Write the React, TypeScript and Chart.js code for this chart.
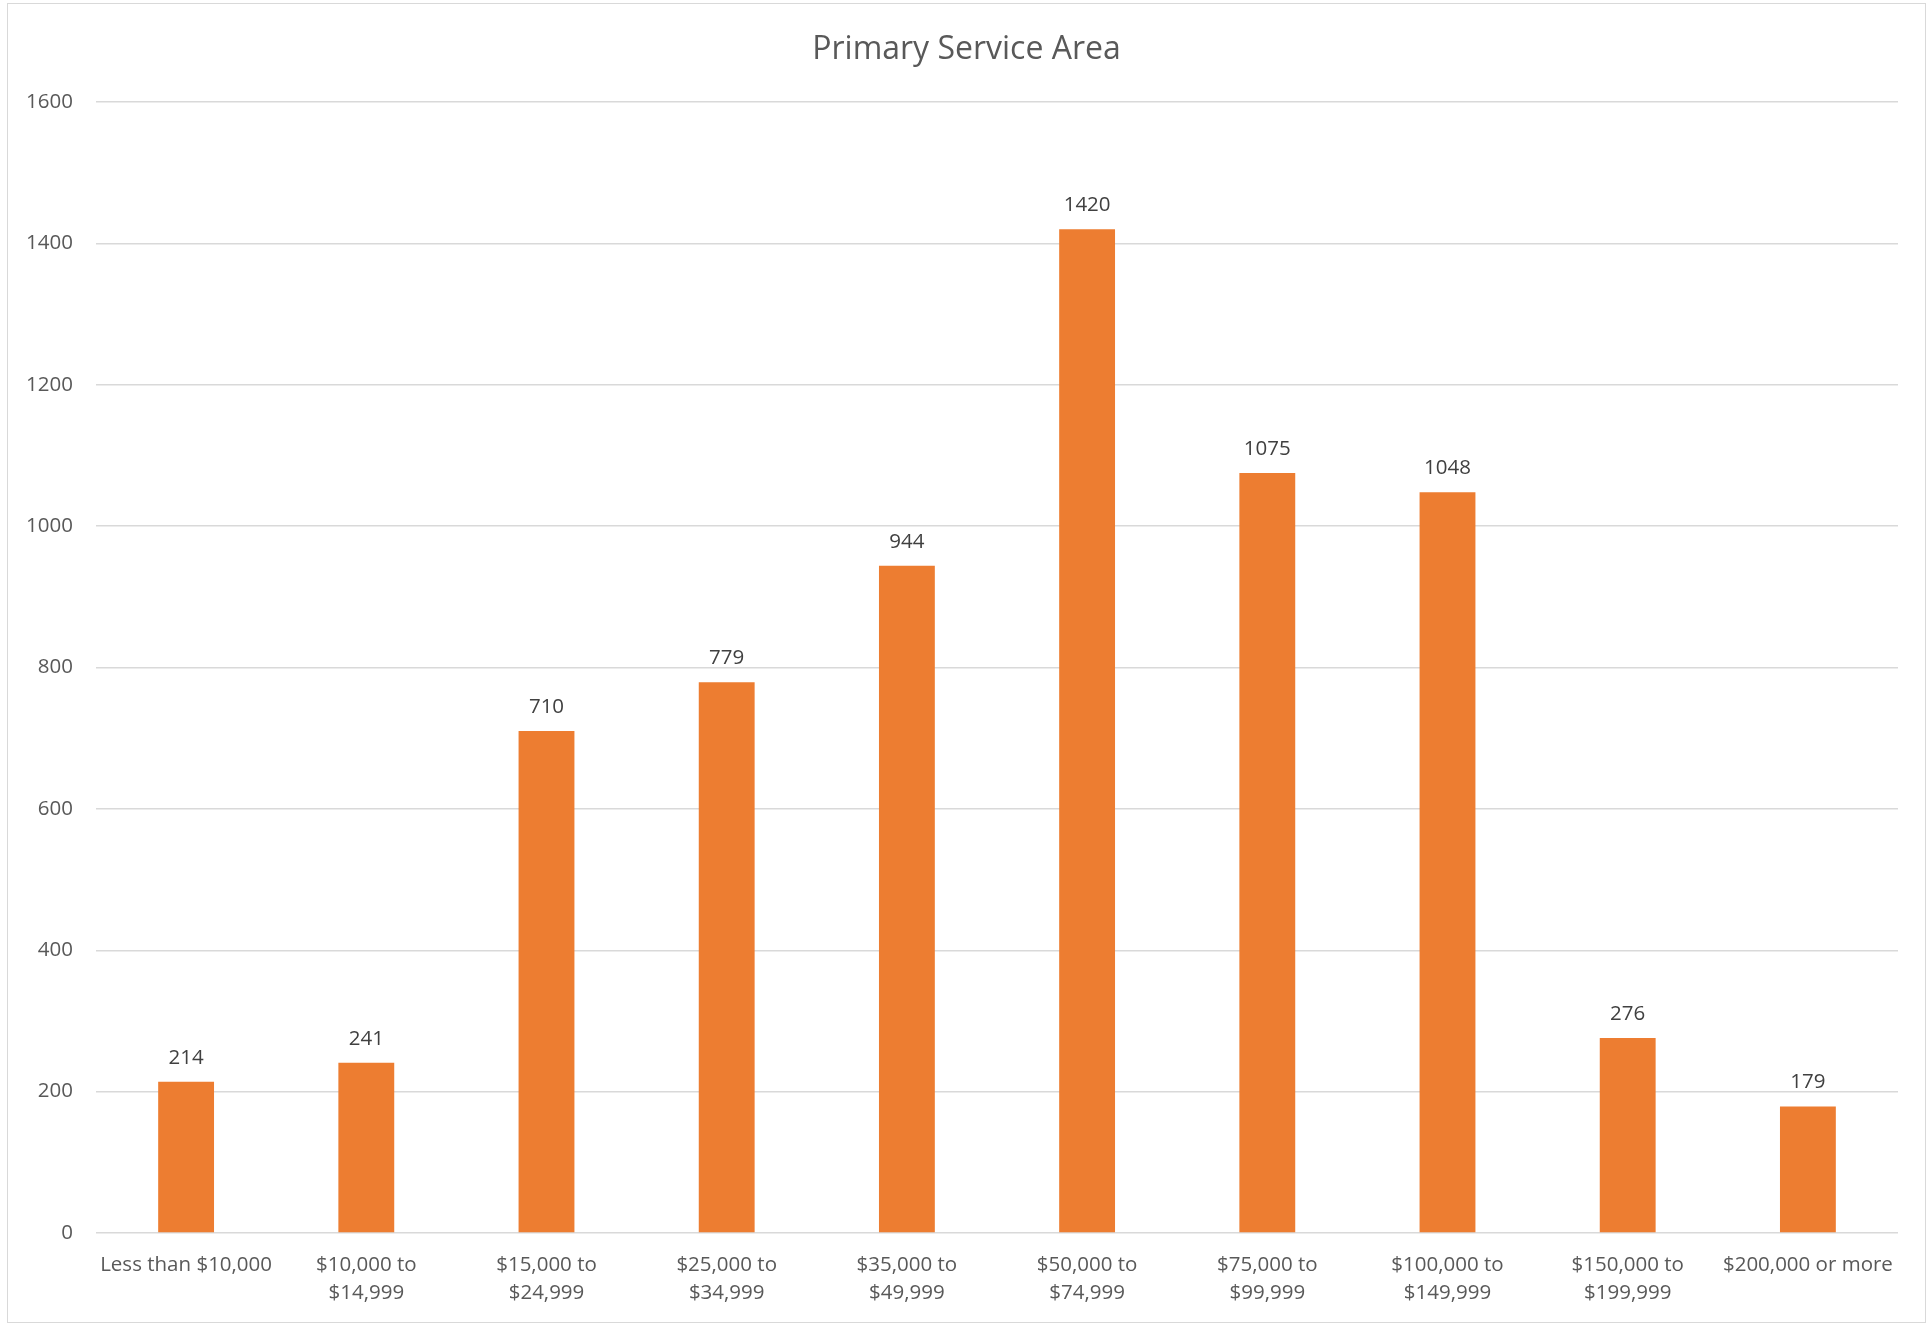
import React, { useEffect, useRef } from 'react';
import { Chart, registerables } from 'chart.js';

Chart.register(...registerables);

const categories: string[][] = [
  ['Less than $10,000'],
  ['$10,000 to', '$14,999'],
  ['$15,000 to', '$24,999'],
  ['$25,000 to', '$34,999'],
  ['$35,000 to', '$49,999'],
  ['$50,000 to', '$74,999'],
  ['$75,000 to', '$99,999'],
  ['$100,000 to', '$149,999'],
  ['$150,000 to', '$199,999'],
  ['$200,000 or more'],
];
const values: number[] = [214, 241, 710, 779, 944, 1420, 1075, 1048, 276, 179];
const yMin = 0;
const yMax = 1600;
const yStep = 200;
const chartTitle = 'Primary Service Area';

const FONT = "'Open Sans', 'DejaVu Sans', sans-serif";

const dataLabelPlugin = {
  id: 'dataLabels',
  afterDatasetsDraw(chart: any) {
    const ctx = chart.ctx;
    const meta = chart.getDatasetMeta(0);
    ctx.save();
    ctx.font = `20.5px ${FONT}`;
    ctx.fillStyle = '#404040';
    ctx.textAlign = 'center';
    ctx.textBaseline = 'alphabetic';
    meta.data.forEach((bar: any, i: number) => {
      ctx.fillText(String(values[i]), bar.x, bar.y - 18);
    });
    ctx.restore();
  },
};

const titlePlugin = {
  id: 'centeredTitle',
  afterDraw(chart: any) {
    const ctx = chart.ctx;
    ctx.save();
    ctx.font = `32px ${FONT}`;
    ctx.fillStyle = '#595959';
    ctx.textAlign = 'center';
    ctx.textBaseline = 'middle';
    ctx.fillText(chartTitle, chart.width / 2, 46.2);
    ctx.restore();
  },
};

export default function App() {
  const ref = useRef<HTMLCanvasElement>(null);
  useEffect(() => {
    document.body.style.margin = '0';
    const chart = new Chart(ref.current as HTMLCanvasElement, {
      type: 'bar',
      data: {
        labels: categories,
        datasets: [
          {
            data: values,
            backgroundColor: '#ED7D31',
            borderWidth: 0,
            barPercentage: 1,
            categoryPercentage: 0.31,
          },
        ],
      },
      options: {
        responsive: false,
        animation: false,
        layout: { padding: { left: 0, right: 27, top: 98, bottom: 0 } },
        plugins: {
          legend: { display: false },
          tooltip: { enabled: false },
          title: { display: false },
        },
        scales: {
          x: {
            grid: { display: false, drawTicks: false },
            border: { display: false },
            ticks: {
              color: '#595959',
              font: { family: FONT, size: 20.5, lineHeight: 1.37 },
              padding: 18,
              autoSkip: false,
              maxRotation: 0,
              minRotation: 0,
            },
            afterFit(scale: any) {
              scale.height = 89;
            },
          },
          y: {
            min: yMin,
            max: yMax,
            grid: { color: '#d9d9d9', lineWidth: 1.5, drawTicks: false },
            border: { display: false },
            ticks: {
              stepSize: yStep,
              color: '#595959',
              font: { family: FONT, size: 20.5 },
              padding: 23,
              callback: (v: any) => String(v),
            },
            afterFit(scale: any) {
              scale.width = 88;
            },
          },
        },
      },
      plugins: [dataLabelPlugin, titlePlugin],
    });
    return () => chart.destroy();
  }, []);
  return (
    <div
      style={{
        position: 'absolute',
        left: 7,
        top: 3,
        width: 1919,
        height: 1320,
        boxSizing: 'border-box',
        border: '1px solid #d9d9d9',
        background: '#fff',
      }}
    >
      <canvas ref={ref} width={1917} height={1318} style={{ display: 'block', width: 1917, height: 1318 }} />
    </div>
  );
}
